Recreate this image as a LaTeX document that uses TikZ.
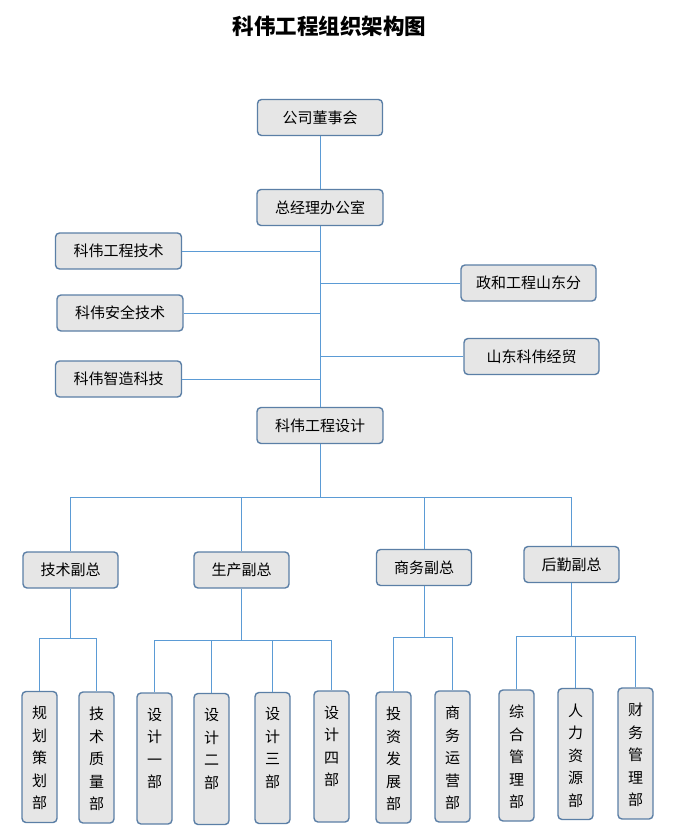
\documentclass[tikz,border=0pt]{standalone}
\usepackage{fontspec}
\setmainfont{Noto Sans CJK SC}
\definecolor{boxfill}{HTML}{E6E6E6}
\definecolor{boxline}{HTML}{5B7FA6}
\definecolor{linkblue}{HTML}{5B9BD5}
\newcommand{\vtext}[1]{\parbox[c][131pt][t]{35pt}{\vspace*{15pt}\centering\fontsize{15}{22.5}\selectfont #1}}

\begin{document}
\begin{tikzpicture}[x=1pt,y=-1pt,
  hbox/.style={draw=boxline,fill=boxfill,line width=1.4pt,rounded corners=4pt,minimum width=126pt,minimum height=36pt,inner sep=0pt,font=\fontsize{15}{17}\selectfont},
  vpbox/.style={hbox,minimum width=95pt},
  vbox/.style={draw=boxline,fill=boxfill,line width=1.4pt,rounded corners=4pt,inner sep=0pt},
  link/.style={linkblue,line width=1pt}]
\path[use as bounding box] (0,0) rectangle (673,840);
\node[font=\fontsize{21.5}{24}\selectfont\bfseries] (title) at (329.5,26) {科伟工程组织架构图};
% top of the chart
\node[hbox,minimum width=125pt] (board) at (320,117.5) {公司董事会};
\node[hbox] (office) at (320,207.5) {总经理办公室};
\node[hbox] (kwgc) at (118.5,251) {科伟工程技术};
\node[hbox] (kwaq) at (120,313) {科伟安全技术};
\node[hbox] (kwzz) at (118.5,379) {科伟智造科技};
\node[hbox,minimum width=135pt] (zhsd) at (528.5,283) {政和工程山东分};
\node[hbox,minimum width=135pt] (sdjm) at (531.5,356.5) {山东科伟经贸};
\node[hbox] (design) at (320,425.5) {科伟工程设计};
\draw[link] (board) -- (office);
\draw[link] (office) -- (design);
\draw[link] (kwgc) -- (kwgc -| office);
\draw[link] (kwaq) -- (kwaq -| office);
\draw[link] (kwzz) -- (kwzz -| office);
\draw[link] (zhsd) -- (zhsd -| office);
\draw[link] (sdjm) -- (sdjm -| office);
% vice presidents
\coordinate (bus) at (320,497);
\node[vpbox] (vpjs) at (70.5,570) {技术副总};
\node[vpbox] (vpsc) at (241.5,570) {生产副总};
\node[vpbox] (vpsw) at (424,567.5) {商务副总};
\node[vpbox] (vphq) at (571.5,564.5) {后勤副总};
\draw[link] (design) -- (bus);
\draw[link] (vpjs |- bus) -- (vphq |- bus);
\draw[link] (vpjs |- bus) -- (vpjs);
\draw[link] (vpsc |- bus) -- (vpsc);
\draw[link] (vpsw |- bus) -- (vpsw);
\draw[link] (vphq |- bus) -- (vphq);
% departments
\node[vbox] (ghch) at (39.5,757) {\vtext{规\\划\\策\\划\\部}};
\node[vbox] (jszl) at (96.5,757.5) {\vtext{技\\术\\质\\量\\部}};
\node[vbox] (sj1) at (154.5,758.5) {\vtext{设\\计\\一\\部}};
\node[vbox] (sj2) at (211.5,759) {\vtext{设\\计\\二\\部}};
\node[vbox] (sj3) at (272.5,758) {\vtext{设\\计\\三\\部}};
\node[vbox] (sj4) at (331.5,756.5) {\vtext{设\\计\\四\\部}};
\node[vbox] (tzfz) at (393.5,757.5) {\vtext{投\\资\\发\\展\\部}};
\node[vbox] (swyy) at (452.5,756.5) {\vtext{商\\务\\运\\营\\部}};
\node[vbox] (zhgl) at (516.5,755.5) {\vtext{综\\合\\管\\理\\部}};
\node[vbox] (rlzy) at (575.5,754) {\vtext{人\\力\\资\\源\\部}};
\node[vbox] (cwgl) at (635.5,753.5) {\vtext{财\\务\\管\\理\\部}};
\coordinate (jsbus) at (70.5,638);
\coordinate (scbus) at (241.5,640);
\coordinate (swbus) at (424,637);
\coordinate (hqbus) at (571.5,636);
\draw[link] (vpjs) -- (jsbus);
\draw[link] (ghch |- jsbus) -- (jszl |- jsbus);
\draw[link] (ghch |- jsbus) -- (ghch);
\draw[link] (jszl |- jsbus) -- (jszl);
\draw[link] (vpsc) -- (scbus);
\draw[link] (sj1 |- scbus) -- (sj4 |- scbus);
\draw[link] (sj1 |- scbus) -- (sj1);
\draw[link] (sj2 |- scbus) -- (sj2);
\draw[link] (sj3 |- scbus) -- (sj3);
\draw[link] (sj4 |- scbus) -- (sj4);
\draw[link] (vpsw) -- (swbus);
\draw[link] (tzfz |- swbus) -- (swyy |- swbus);
\draw[link] (tzfz |- swbus) -- (tzfz);
\draw[link] (swyy |- swbus) -- (swyy);
\draw[link] (vphq) -- (hqbus);
\draw[link] (zhgl |- hqbus) -- (cwgl |- hqbus);
\draw[link] (zhgl |- hqbus) -- (zhgl);
\draw[link] (rlzy |- hqbus) -- (rlzy);
\draw[link] (cwgl |- hqbus) -- (cwgl);
\end{tikzpicture}
\end{document}
